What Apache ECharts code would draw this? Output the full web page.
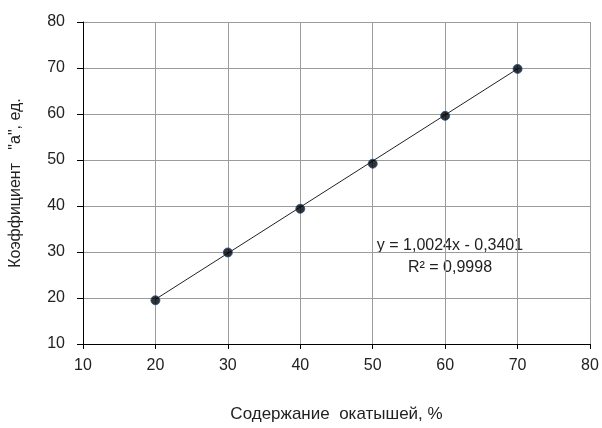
<!DOCTYPE html>
<html>
<head>
<meta charset="utf-8">
<script src="https://cdn.jsdelivr.net/npm/echarts@6/dist/echarts.min.js"></script>
<style>
  html, body { margin: 0; padding: 0; background: #fff; }
  #chart { width: 602px; height: 428px; }
</style>
</head>
<body>
<div id="chart"></div>
<script>
// данные
var xValues = [20, 30, 40, 50, 60, 70];
var yValues = [19.5, 29.9, 39.4, 49.2, 59.6, 69.8];
var slope = 1.0024;
var intercept = -0.3401;
var equationText = 'y = 1,0024x - 0,3401';
var r2Text = 'R² = 0,9998';

var font = "'Liberation Sans', Arial, sans-serif";

var points = xValues.map(function (x, i) { return [x, yValues[i]]; });
// линия тренда по уравнению
var trend = [
  [xValues[0], slope * xValues[0] + intercept],
  [xValues[xValues.length - 1], slope * xValues[xValues.length - 1] + intercept]
];

var chart = echarts.init(document.getElementById('chart'));
chart.setOption({
  backgroundColor: '#fff',
  animation: false,
  grid: { left: 83, top: 22, right: 12, bottom: 84 },
  xAxis: {
    type: 'value',
    min: 10, max: 80, interval: 10,
    name: 'Содержание  окатышей, %',
    nameLocation: 'middle',
    nameGap: 62,
    nameTextStyle: { color: '#222', fontSize: 17, fontFamily: font },
    axisLine: { show: true, onZero: false, lineStyle: { color: '#000', width: 1 } },
    axisTick: { show: true, length: 5, lineStyle: { color: '#000' } },
    axisLabel: { color: '#222', fontSize: 16, fontFamily: font, margin: 14 },
    splitLine: { show: true, lineStyle: { color: '#9c9c9c', width: 1 } }
  },
  yAxis: {
    type: 'value',
    min: 10, max: 80, interval: 10,
    name: 'Коэффициент   "а", ед.',
    nameLocation: 'middle',
    nameGap: 59,
    nameTextStyle: { color: '#222', fontSize: 16, fontFamily: font },
    axisLine: { show: true, onZero: false, lineStyle: { color: '#000', width: 1 } },
    axisTick: { show: true, length: 6, lineStyle: { color: '#000' } },
    axisLabel: { color: '#222', fontSize: 16, fontFamily: font, margin: 18 },
    splitLine: { show: true, lineStyle: { color: '#9c9c9c', width: 1 } }
  },
  series: [
    {
      type: 'line',
      data: trend,
      showSymbol: false,
      symbol: 'none',
      lineStyle: { color: '#222', width: 1 },
      silent: true,
      z: 2
    },
    {
      type: 'scatter',
      data: points,
      symbol: 'circle',
      symbolSize: 9,
      itemStyle: { color: '#000', borderColor: '#1f4e8c', borderWidth: 1 },
      z: 3
    }
  ],
  graphic: [
    {
      type: 'text',
      x: 450, y: 246,
      style: { text: equationText, fill: '#222', font: '16px ' + font, align: 'center', verticalAlign: 'middle' }
    },
    {
      type: 'text',
      x: 450, y: 268,
      style: { text: r2Text, fill: '#222', font: '16px ' + font, align: 'center', verticalAlign: 'middle' }
    }
  ]
});
</script>
</body>
</html>
